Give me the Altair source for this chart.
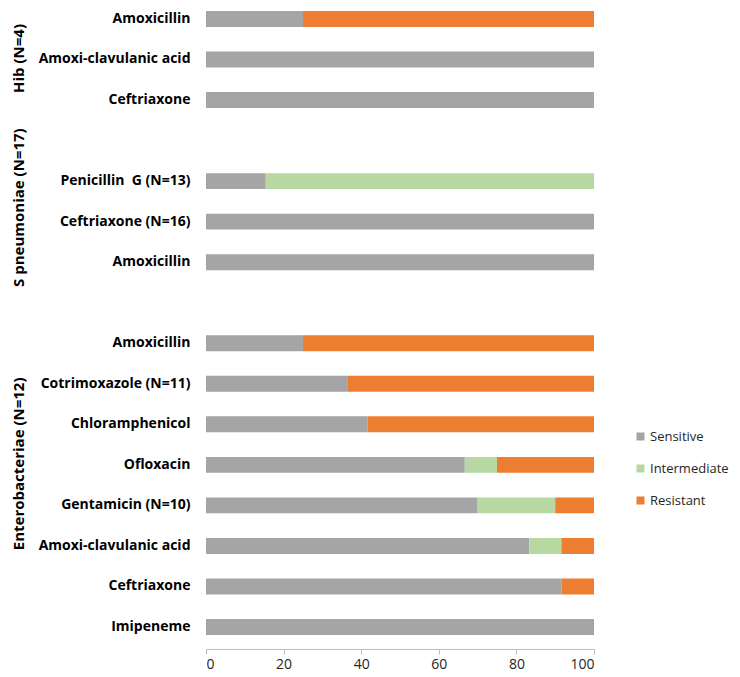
import altair as alt
import pandas as pd

groups = ["Hib (N=4)", "S pneumoniae (N=17)", "Enterobacteriae (N=12)"]
drugs = ["Amoxicillin", "Amoxi-clavulanic acid", "Ceftriaxone",
         "Penicillin\u00a0 G (N=13)", "Ceftriaxone (N=16)", "Amoxicillin",
         "Amoxicillin", "Cotrimoxazole (N=11)", "Chloramphenicol", "Ofloxacin",
         "Gentamicin (N=10)", "Amoxi-clavulanic acid", "Ceftriaxone", "Imipeneme"]
sensitive = [25, 100, 100, 15.4, 100, 100, 25, 36.4, 41.7, 66.7, 70, 83.3, 91.7, 100]
intermediate = [0, 0, 0, 84.6, 0, 0, 0, 0, 0, 8.3, 20, 8.3, 0, 0]
resistant = [75, 0, 0, 0, 0, 0, 75, 63.6, 58.3, 25, 10, 8.4, 8.3, 0]
statuses = ["Sensitive", "Intermediate", "Resistant"]
colors = ["#A5A5A5", "#B7D8A3", "#ED7D31"]
x_ticks = [0, 20, 40, 60, 80, 100]

FONT = "Open Sans"

keys = [f"{i:02d}|{d}" for i, d in enumerate(drugs)]
domain = keys[0:3] + ["g1"] + keys[3:6] + ["g2"] + keys[6:]

rows = []
for i, k in enumerate(keys):
    for j, (s, vals) in enumerate(zip(statuses, [sensitive, intermediate, resistant])):
        rows.append({"row": k, "status": s, "value": vals[i], "ord": j})
df = pd.DataFrame(rows)

glabels = pd.DataFrame({
    "group": groups,
    "row": [keys[1], keys[4], keys[9]],
})

yscale = alt.Scale(domain=domain, paddingInner=0.607, paddingOuter=0.21, align=0.176)

bars = alt.Chart(df).mark_bar().encode(
    x=alt.X("value:Q", stack="zero",
            scale=alt.Scale(domain=[0, 100], nice=False),
            axis=alt.Axis(values=x_ticks, grid=False, title=None,
                          domainColor="#BFBFBF", tickColor="#BFBFBF", tickSize=5,
                          labelFont=FONT, labelFontSize=14, labelColor="#262626",
                          labelPadding=3)),
    y=alt.Y("row:N", scale=yscale, sort=domain,
            axis=alt.Axis(title=None, ticks=False, domain=False,
                          labelExpr="slice(datum.value, 3)",
                          labelFont=FONT, labelFontWeight="bold", labelFontSize=14,
                          labelColor="black", labelPadding=16)),
    color=alt.Color("status:N",
                    scale=alt.Scale(domain=statuses, range=colors),
                    legend=alt.Legend(title=None, orient="none", legendX=428, legendY=422,
                                      symbolType="square", symbolSize=64,
                                      symbolStrokeWidth=0, padding=0,
                                      labelFont=FONT, labelFontSize=13, labelColor="#262626",
                                      labelOffset=3, rowPadding=18)),
    order=alt.Order("ord:Q"),
)

def glayer(idx, dx):
    return alt.Chart(glabels.iloc[[idx]]).mark_text(
        angle=270, font=FONT, fontWeight="bold", fontSize=15, color="black",
        align="center", baseline="middle", dx=dx,
    ).encode(
        x=alt.value(-187),
        y=alt.Y("row:N", scale=yscale, sort=domain),
        text="group:N",
    )

chart = alt.layer(bars, glayer(0, 1), glayer(1, 14), glayer(2, 1)).properties(
    width=388, height=641,
    padding={"left": 198, "top": 0, "right": 138, "bottom": 28},
    autosize=alt.AutoSizeParams(type="none"),
).configure_view(stroke=None)

chart.save("out.html", embed_options={"renderer": "svg", "actions": False})
